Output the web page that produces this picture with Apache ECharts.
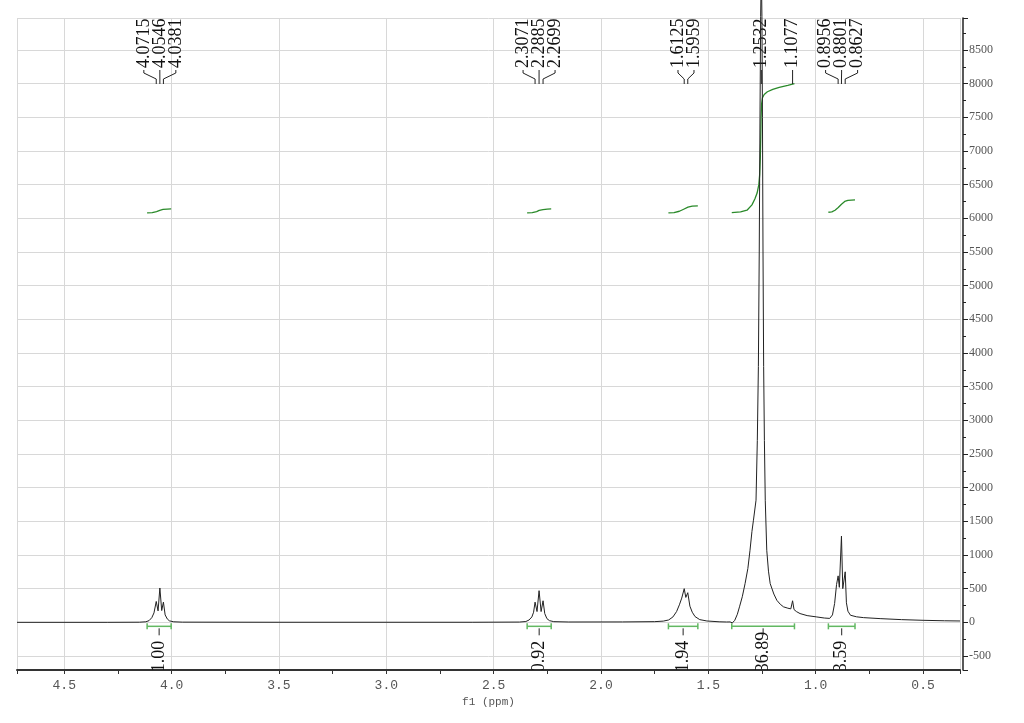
<!DOCTYPE html>
<html>
<head>
<meta charset="utf-8">
<script src="https://cdn.jsdelivr.net/npm/echarts@6/dist/echarts.min.js"></script>
<style>
  html, body { margin: 0; padding: 0; background: #fff; }
  #nmr { width: 1024px; height: 723px; }
</style>
</head>
<body>
<div id="nmr"></div>
<script>
// 1H NMR spectrum (f1 in ppm, intensity)
const specPpm = [4.72, 4.30, 4.15, 4.12, 4.105, 4.092, 4.082, 4.0715, 4.063, 4.0546, 4.046, 4.0381, 4.03, 4.02, 4.01, 3.99, 3.95, 3.50,
  2.60, 2.38, 2.35, 2.335, 2.322, 2.314, 2.3071, 2.298, 2.2885, 2.279, 2.2699, 2.262, 2.252, 2.24, 2.22, 2.15,
  1.90, 1.75, 1.71, 1.685, 1.665, 1.648, 1.635, 1.624, 1.6125, 1.605, 1.5959, 1.586, 1.575, 1.562, 1.54, 1.507, 1.45,
  1.415, 1.407, 1.399, 1.388, 1.377, 1.365, 1.355, 1.342, 1.329, 1.316, 1.306, 1.297, 1.29, 1.278, 1.272, 1.267, 1.263,
  1.2595, 1.2565, 1.2532, 1.2505, 1.248, 1.2455, 1.2425, 1.239, 1.235, 1.228, 1.22, 1.212, 1.195, 1.181, 1.165, 1.15,
  1.13, 1.116, 1.1077, 1.101, 1.09, 1.073, 1.04, 0.995, 0.96, 0.935, 0.922, 0.912, 0.903, 0.8956, 0.890, 0.8801, 0.874,
  0.8627, 0.857, 0.85, 0.838, 0.81, 0.778, 0.70, 0.60, 0.50, 0.40, 0.328]
const specInt = [0, 0, 2, 8, 25, 70, 140, 310, 170, 510, 175, 300, 110, 50, 22, 8, 3, 1,
  1, 4, 12, 35, 80, 150, 300, 160, 470, 160, 320, 130, 55, 25, 10, 5,
  6, 10, 18, 35, 80, 160, 260, 360, 500, 370, 440, 240, 150, 85, 40, 20, 8,
  5, 28, 6, -8, 30, 120, 230, 380, 575, 800, 1070, 1350, 1516, 1813, 2700, 3800, 5500,
  7500, 9000, 9700, 9000, 7500, 5500, 3800, 2700, 1813, 1070, 760, 575, 420, 327, 268, 230,
  210, 200, 320, 190, 160, 130, 100, 80, 64, 58, 110, 280, 560, 690, 520, 1280, 500,
  750, 290, 165, 105, 82, 70, 55, 40, 30, 23, 20]

// integral curves (drawn on the same intensity scale)
const integ405 = [[4.114, 6080], [4.09, 6085], [4.07, 6100], [4.055, 6118], [4.04, 6132], [4.02, 6138], [4.002, 6140]]
const integ229 = [[2.344, 6080], [2.32, 6085], [2.30, 6100], [2.288, 6118], [2.27, 6130], [2.25, 6137], [2.232, 6140]]
const integ161 = [[1.686, 6080], [1.66, 6085], [1.635, 6105], [1.615, 6135], [1.595, 6165], [1.575, 6180], [1.549, 6185]]
const integ125 = [[1.391, 6085], [1.35, 6095], [1.32, 6120], [1.297, 6200], [1.283, 6290], [1.273, 6375], [1.265, 6500],
  [1.261, 6650], [1.258, 6900], [1.256, 7200], [1.2545, 7500], [1.252, 7700], [1.248, 7790], [1.24, 7840], [1.225, 7880],
  [1.2, 7915], [1.17, 7945], [1.13, 7975], [1.099, 8000]]
const integ088 = [[0.941, 6090], [0.925, 6095], [0.91, 6120], [0.895, 6160], [0.88, 6210], [0.865, 6250], [0.85, 6265], [0.817, 6275]]

// integration regions and values
const intFrom = [4.114, 2.344, 1.686, 1.391, 0.941]
const intTo = [4.002, 2.232, 1.549, 1.099, 0.817]
const intValues = ['1.00', '0.92', '1.94', '36.89', '3.59']

// peak picking labels
const peakGroups = [[4.0715, 4.0546, 4.0381], [2.3071, 2.2885, 2.2699], [1.6125, 1.5959], [1.2532], [1.1077], [0.8956, 0.8801, 0.8627]]

const serif = '"Liberation Serif", "DejaVu Serif", serif'
const integColor = '#2a8a2a'

function renderPeakLabels(params, api) {
  const shifts = peakGroups[params.dataIndex]
  const top = params.coordSys.y
  const xs = shifts.map(s => api.coord([s, 0])[0])
  const mid = xs.reduce((a, b) => a + b, 0) / xs.length
  const base = top + 50
  const children = []
  shifts.forEach((s, i) => {
    const lx = mid + (i - (shifts.length - 1) / 2) * 16
    children.push({
      type: 'text', x: lx, y: base, rotation: Math.PI / 2,
      style: { text: s.toFixed(4), font: '18px ' + serif, fill: '#111', align: 'left', verticalAlign: 'middle' }
    })
    children.push({
      type: 'polyline',
      shape: { points: [[lx, base + 2], [lx, base + 5], [xs[i], base + 11], [xs[i], base + 16]] },
      style: { stroke: '#222', lineWidth: 1, fill: null }
    })
  })
  return { type: 'group', children }
}

function renderIntegrals(params, api) {
  const i = params.dataIndex
  const a = api.coord([intFrom[i], 0])
  const b = api.coord([intTo[i], 0])
  const y = a[1] + 4
  const mx = (a[0] + b[0]) / 2
  const green = { stroke: '#62b862', lineWidth: 1.5 }
  return {
    type: 'group',
    children: [
      { type: 'line', shape: { x1: a[0], y1: y, x2: b[0], y2: y }, style: green },
      { type: 'line', shape: { x1: a[0], y1: y - 3, x2: a[0], y2: y + 3 }, style: green },
      { type: 'line', shape: { x1: b[0], y1: y - 3, x2: b[0], y2: y + 3 }, style: green },
      { type: 'line', shape: { x1: mx, y1: y + 2, x2: mx, y2: y + 9 }, style: { stroke: '#222', lineWidth: 1 } },
      {
        type: 'text', x: mx, y: a[1] + 50, rotation: Math.PI / 2,
        style: { text: intValues[i], font: '18px ' + serif, fill: '#111', align: 'left', verticalAlign: 'middle' }
      }
    ]
  }
}

function integSeries(data) {
  return {
    type: 'line', data, showSymbol: false, silent: true, z: 2,
    lineStyle: { color: integColor, width: 1.3 }
  }
}

const chart = echarts.init(document.getElementById('nmr'))
chart.setOption({
  animation: false,
  backgroundColor: '#fff',
  grid: { left: 17, right: 64, top: 18, bottom: 53 },
  xAxis: {
    type: 'value',
    inverse: true,
    min: 0.328,
    max: 4.72,
    splitNumber: 9,
    minInterval: 0.5,
    maxInterval: 0.5,
    name: 'f1 (ppm)',
    nameLocation: 'middle',
    nameGap: 27,
    nameTextStyle: { color: '#555', fontSize: 11, fontFamily: '"Liberation Mono", monospace' },
    axisLine: { onZero: false, lineStyle: { color: '#333', width: 2 } },
    axisTick: { length: 4, lineStyle: { color: '#333' } },
    minorTick: { show: true, splitNumber: 2, length: 4, lineStyle: { color: '#333' } },
    axisLabel: {
      color: '#555', fontSize: 13, fontFamily: '"Liberation Mono", monospace', margin: 9,
      showMinLabel: false, showMaxLabel: false,
      formatter: v => v.toFixed(1)
    },
    splitLine: { show: true, lineStyle: { color: '#d8d8d8' } }
  },
  yAxis: {
    type: 'value',
    position: 'right',
    offset: 3,
    min: -708,
    max: 8975,
    splitNumber: 19,
    minInterval: 500,
    maxInterval: 500,
    axisLine: { show: true, onZero: false, lineStyle: { color: '#222', width: 1.5 } },
    axisTick: { show: true, length: 5, lineStyle: { color: '#222' } },
    minorTick: { show: true, splitNumber: 2, length: 3, lineStyle: { color: '#222' } },
    axisLabel: {
      color: '#555', fontSize: 12, fontFamily: serif, margin: 6,
      showMinLabel: false, showMaxLabel: false,
      formatter: v => String(v)
    },
    splitLine: { show: true, lineStyle: { color: '#d8d8d8' } }
  },
  series: [
    {
      type: 'line',
      data: specPpm.map((p, i) => [p, specInt[i]]),
      showSymbol: false,
      silent: true,
      clip: false,
      z: 4,
      lineStyle: { color: '#222', width: 1 }
    },
    integSeries(integ405),
    integSeries(integ229),
    integSeries(integ161),
    integSeries(integ125),
    integSeries(integ088),
    {
      type: 'custom',
      renderItem: renderIntegrals,
      data: intFrom.map(f => [f, 0]),
      clip: true,
      silent: true,
      z: 3
    },
    {
      type: 'custom',
      renderItem: renderPeakLabels,
      data: peakGroups.map(g => [g[0], 0]),
      clip: false,
      silent: true,
      z: 3
    }
  ]
})
</script>
</body>
</html>
